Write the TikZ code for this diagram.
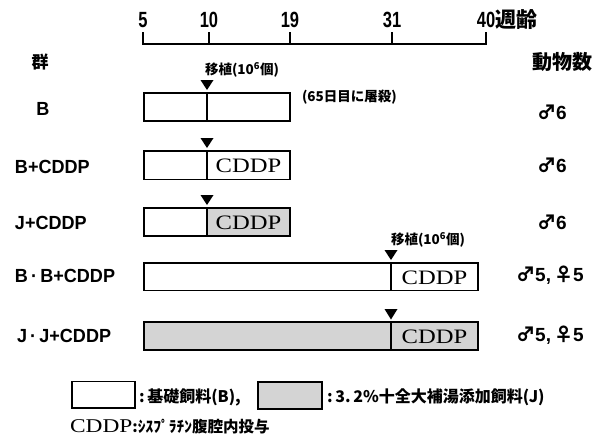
\documentclass[tikz,border=0pt]{standalone}
\usepackage{fontspec}
\setmainfont{Liberation Sans}
\newfontfamily\jp{Noto Sans CJK JP}
\newfontfamily\lab[FakeStretch=0.95]{Liberation Sans}
\newfontfamily\axf[FakeStretch=0.75]{Liberation Sans}
\newfontfamily\ser[FakeStretch=1.2]{Liberation Serif}
\definecolor{boxgray}{RGB}{212,212,212}
\begin{document}
\begin{tikzpicture}[x=1pt,y=-1pt,
  every node/.style={inner sep=0pt, outer sep=0pt},
  bar/.style={draw=black, line width=1.8pt},
  graybar/.style={bar, fill=boxgray},
  axisline/.style={line width=1.5pt},
  tri/.style={fill=black},
  num/.style={font=\axf\bfseries\fontsize{22}{24}\selectfont},
  grp/.style={font=\lab\bfseries\fontsize{19}{21}\selectfont},
  jpbig/.style={font=\jp\bfseries\fontsize{20}{22}\selectfont},
  jpsmall/.style={font=\jp\bfseries\fontsize{13.5}{15}\selectfont},
  jplegend/.style={font=\jp\bfseries\fontsize{16}{18}\selectfont},
  cd/.style={font=\ser\fontsize{20.5}{22}\selectfont},
  sex/.style={font=\bfseries\fontsize{19}{21}\selectfont}
]
\useasboundingbox (0,0) rectangle (603,440);

% axis
\draw[axisline] (143,32) -- (143,44) -- (486,44) -- (486,32);
\foreach \xx in {209,290,392} \draw[axisline] (\xx,32) -- (\xx,44);
\node[num] (t5)  at (143,20) {5};
\node[num] (t10) at (209,20) {10};
\node[num] (t19) at (290,20) {19};
\node[num] (t31) at (392,20) {31};
\node[num] (t40) at (486,20) {40};
\node[jpbig, font=\jp\bfseries\fontsize{21}{22}\selectfont, anchor=west] (wk) at (t40.east) {週齢};

% headers
\node[jpbig, font=\jp\bfseries\fontsize{17}{18}\selectfont] (gun) at (40,62) {群};
\node[jpbig] (dob) at (562,62) {動物数};

% row labels
\node[grp] (gB)   at (43,109) {B};
\node[grp, anchor=west] (gBC)  at (15,167) {B+CDDP};
\node[grp, anchor=west] (gJC)  at (15,223) {J+CDDP};
\node[grp, anchor=west] (gBBC) at (15,276) {B\,·\,B+CDDP};
\node[grp, anchor=west] (gJJC) at (17,336) {J\,·\,J+CDDP};

% row B
\draw[bar] (144,93) rectangle (290,121);
\draw[bar] (207,93) -- (207,121);
\fill[tri] (200.5,80) -- (213.5,80) -- (207,90) -- cycle;
\node[jpsmall] (ishoku1) at (242,70) {移植(10\textsuperscript{6}個)};
\node[jpsmall, anchor=west] (tosatsu) at (302,97) {(65日目に屠殺)};

% row B+CDDP
\draw[bar] (144,151) rectangle (290,179.5);
\draw[bar] (207,151) -- (207,179.5);
\fill[tri] (200.5,138) -- (213.5,138) -- (207,148) -- cycle;
\node[cd] (c1) at (248.5,166) {CDDP};

% row J+CDDP
\draw[graybar] (207,208) rectangle (290,236);
\draw[bar] (144,208) rectangle (290,236);
\draw[bar] (207,208) -- (207,236);
\fill[tri] (200.5,195) -- (213.5,195) -- (207,205) -- cycle;
\node[cd] (c2) at (248.5,222.5) {CDDP};

% row B.B+CDDP
\draw[bar] (144,263) rectangle (478,290.5);
\draw[bar] (391,263) -- (391,290.5);
\fill[tri] (384.5,250) -- (397.5,250) -- (391,260) -- cycle;
\node[jpsmall] (ishoku2) at (428,240) {移植(10\textsuperscript{6}個)};
\node[cd] (c3) at (434.5,277.5) {CDDP};

% row J.J+CDDP
\draw[graybar] (144,322) rectangle (478,350);
\draw[bar] (391,322) -- (391,350);
\fill[tri] (384.5,309) -- (397.5,309) -- (391,319.5) -- cycle;
\node[cd] (c4) at (434.5,336.5) {CDDP};

% animal numbers
\node[sex] (n1) at (552,112) {{\jp\bfseries ♂}6};
\node[sex] (n2) at (552,165) {{\jp\bfseries ♂}6};
\node[sex] (n3) at (552,222) {{\jp\bfseries ♂}6};
\node[sex] (n4) at (550,275) {{\jp\bfseries ♂}5,\,{\jp\bfseries ♀}5};
\node[sex] (n5) at (550,335) {{\jp\bfseries ♂}5,\,{\jp\bfseries ♀}5};

% legend
\draw[bar] (72,381.5) rectangle (135,408);
\node[jplegend, anchor=west] (legB) at (139,397) {:\,基礎飼料(B),};
\draw[graybar] (258,382) rectangle (322,409);
\node[jplegend, anchor=west] (legJ) at (327,397) {:\,3.\,2\%十全大補湯添加飼料(J)};
\node[anchor=west] (note) at (70,427) {{\ser\fontsize{19.5}{21}\selectfont CDDP}{\jp\bfseries\fontsize{15.5}{17}\selectfont :ｼｽﾌﾟﾗﾁﾝ腹腔内投与}};
\end{tikzpicture}
\end{document}
